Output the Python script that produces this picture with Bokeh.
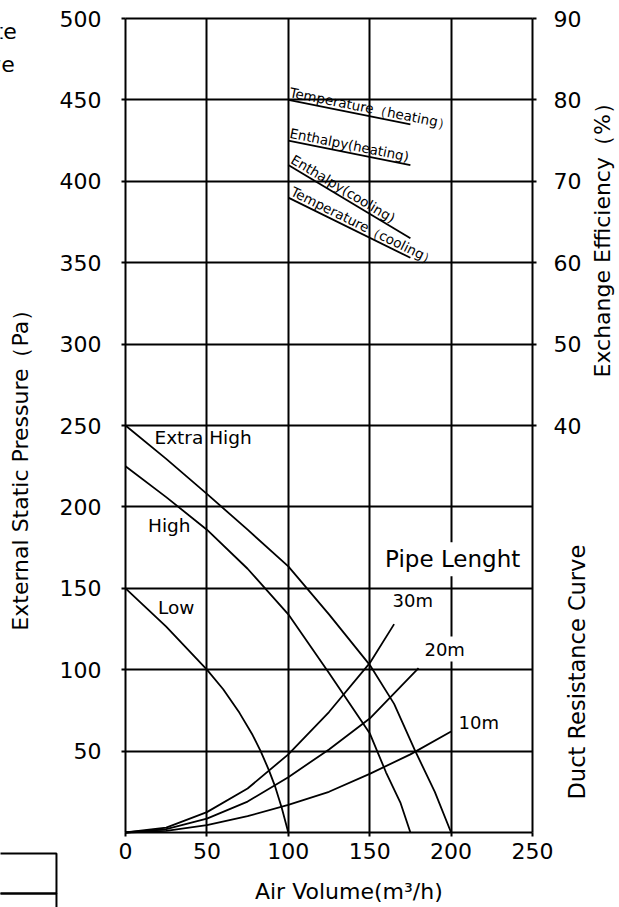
import math
from bokeh.plotting import figure
from bokeh.models import Range1d, LinearAxis, FixedTicker, Label, BoxAnnotation, Grid
from bokeh.embed import file_html
from bokeh.resources import INLINE

FONT = "DejaVu Sans"

# ---- tick definitions ----
x_ticks = [0, 50, 100, 150, 200, 250]
p_ticks = [50, 100, 150, 200, 250, 300, 350, 400, 450, 500]
grid_p_ticks = [0, 50, 100, 150, 200, 250, 300, 350, 400, 450, 500]
eff_ticks = [40, 50, 60, 70, 80, 90]

# ---- fan curves (Air Volume m3/h -> External Static Pressure Pa) ----
extra_high_x = [0, 25, 50, 75, 100, 125, 150, 165, 178, 190, 200]
extra_high_y = [250, 229.5, 208, 186, 163.5, 134, 103, 79, 50, 25, 0]

high_x = [0, 25, 50, 75, 100, 125, 150, 160, 169, 175]
high_y = [225, 206, 186, 162, 134, 98, 61, 37, 18, 0]

low_x = [0, 25, 50, 60, 70, 78, 83, 88, 92, 96, 100]
low_y = [150, 126.5, 100, 88, 73.5, 60, 50, 38.5, 28, 15, 0]

# ---- duct resistance curves ----
d30_x = [0, 25, 50, 75, 100, 125, 150, 165]
d30_y = [0, 3, 12.5, 27, 48, 74, 104, 128]
d20_x = [0, 25, 50, 75, 100, 125, 150, 180]
d20_y = [0, 2, 8.5, 19, 34, 51, 70, 101]
d10_x = [0, 25, 50, 75, 100, 125, 150, 175, 200]
d10_y = [0, 1, 4.5, 10, 17, 25, 36, 48, 62]

# ---- exchange efficiency lines (%) ----
eff_x = [100, 175]
temp_heat = [80, 77]
enth_heat = [75, 72]
enth_cool = [72, 63]
temp_cool = [68, 60.6]

# ---- canvas / frame geometry (frame = whole canvas, axes at fixed locations) ----
W, H = 619, 907
X0 = 125.0          # canvas px of x = 0
XR = 532.0          # canvas px of x = 250
YT = 18.0           # canvas px (from top) of y = 500
YB = 832.0          # canvas px (from top) of y = 0
sx = (XR - X0) / 250.0
sy = (YB - YT) / 500.0
x_start, x_end = -X0 / sx, 250 + (W - XR) / sx
y_start, y_end = -(H - YB) / sy, 500 + YT / sy
# efficiency axis: 40..90 % maps onto 250..500 Pa  (p = 5 e + 50)
e_start, e_end = (y_start - 50) / 5.0, (y_end - 50) / 5.0

p = figure(width=W, height=H, x_range=Range1d(x_start, x_end), y_range=Range1d(y_start, y_end),
           output_backend="svg", toolbar_location=None, min_border=0)
p.min_border_left = p.min_border_right = p.min_border_top = p.min_border_bottom = 0
p.extra_y_ranges = {"eff": Range1d(e_start, e_end)}
p.background_fill_color = "white"
p.border_fill_color = "white"
p.outline_line_color = None

xax = p.xaxis[0]
yax = p.yaxis[0]
xax.ticker = FixedTicker(ticks=x_ticks)
yax.ticker = FixedTicker(ticks=p_ticks)
xax.fixed_location = 0
yax.fixed_location = 0
xax.bounds = (0, 250)
yax.bounds = (0, 500)

eff_axis = LinearAxis(y_range_name="eff", ticker=FixedTicker(ticks=eff_ticks))
eff_axis.fixed_location = 250
eff_axis.bounds = (40, 90)
p.add_layout(eff_axis, "right")

for ax in [xax, yax, eff_axis]:
    ax.axis_line_color = None
    ax.major_tick_line_color = "black"
    ax.major_tick_line_width = 2
    ax.major_tick_in = 0
    ax.major_tick_out = 4
    ax.minor_tick_line_color = None
    ax.major_label_text_font = FONT
    ax.major_label_text_font_size = "22px"
    ax.major_label_text_color = "black"
xax.major_label_standoff = 6
yax.major_label_standoff = 20
eff_axis.major_label_standoff = 17

GRID_W = 2
has_cross = "cross_bounds" in Grid.properties()
if has_cross:
    p.xgrid.ticker = FixedTicker(ticks=x_ticks)
    p.ygrid.ticker = FixedTicker(ticks=grid_p_ticks)
    p.xgrid.bounds = (0, 250)
    p.ygrid.bounds = (0, 500)
    p.xgrid.cross_bounds = (0, 500)
    p.ygrid.cross_bounds = (0, 250)
    p.grid.grid_line_color = "black"
    p.grid.grid_line_width = GRID_W
    p.grid.grid_line_alpha = 1
else:
    p.grid.visible = False
    p.segment(x0=x_ticks, y0=[grid_p_ticks[0]] * len(x_ticks), x1=x_ticks,
              y1=[grid_p_ticks[-1]] * len(x_ticks), line_color="black", line_width=GRID_W)
    p.segment(x0=[x_ticks[0]] * len(grid_p_ticks), y0=grid_p_ticks,
              x1=[x_ticks[-1]] * len(grid_p_ticks), y1=grid_p_ticks,
              line_color="black", line_width=GRID_W)

LW = 1.8
for xs, ys in [(extra_high_x, extra_high_y), (high_x, high_y), (low_x, low_y),
               (d30_x, d30_y), (d20_x, d20_y), (d10_x, d10_y)]:
    p.line(xs, ys, line_color="black", line_width=LW)

ratio = sy * 5.0 / sx
eff_series = [(temp_heat, "Temperature（heating）"), (enth_heat, "Enthalpy(heating)"),
              (enth_cool, "Enthalpy(cooling)"), (temp_cool, "Temperature（cooling）")]
for ys, name in eff_series:
    p.line(eff_x, ys, line_color="black", line_width=LW, y_range_name="eff")
    ang = math.atan2(ratio * (ys[1] - ys[0]), eff_x[1] - eff_x[0])
    p.add_layout(Label(x=eff_x[0], y=ys[0], text=name, y_range_name="eff",
                       text_font=FONT, text_font_size="13.5px", text_color="black",
                       text_align="left", text_baseline="bottom", angle=ang))


def lab(x, y, text, size, align="left", baseline="middle", angle=0.0, bg=None, pad=0):
    l = Label(x=x, y=y, text=text, text_font=FONT, text_font_size=size, text_color="black",
              text_align=align, text_baseline=baseline, angle=angle)
    if bg is not None:
        l.background_fill_color = bg
        l.padding = pad
    p.add_layout(l)


lab(17.8, 242.4, "Extra High", "18.5px")
lab(13.8, 188.3, "High", "18.5px")
lab(20.0, 138.2, "Low", "18.5px")
lab(157.0, 167.9, "Pipe Lenght", "23px", bg="white", pad=4)
lab(164.0, 142.7, "30m", "18px")
lab(182.4, 112.7, "20m", "18px", bg="white", pad=2)
lab(203.3, 67.6, "10m", "18px", bg="white", pad=2)

# axis titles
lab(-64.3, 124.0, "External Static Pressure（Pa）", "22px", angle=math.pi / 2)
lab(293.2, 279.5, "Exchange Efficiency（%）", "22px", angle=math.pi / 2)
lab(277.4, 20.3, "Duct Resistance Curve", "22.5px", angle=math.pi / 2)
lab(79.5, -36.2, "Air Volume(m³/h)", "22px")

# cut-off legend text at top-left
lab(-66.8, 492.0, "Exchange Rate", "22px", align="right")
lab(-68.0, 471.9, "Curve", "22px", align="right")

# partial table box at bottom-left
for top, bottom in [(-12.9, -37.5), (-37.5, -70)]:
    p.add_layout(BoxAnnotation(left=-120, right=-42.4, top=top, bottom=bottom,
                               fill_alpha=0, line_color="black", line_width=2, line_alpha=1))

open("out.html", "w").write(file_html(p, INLINE))
